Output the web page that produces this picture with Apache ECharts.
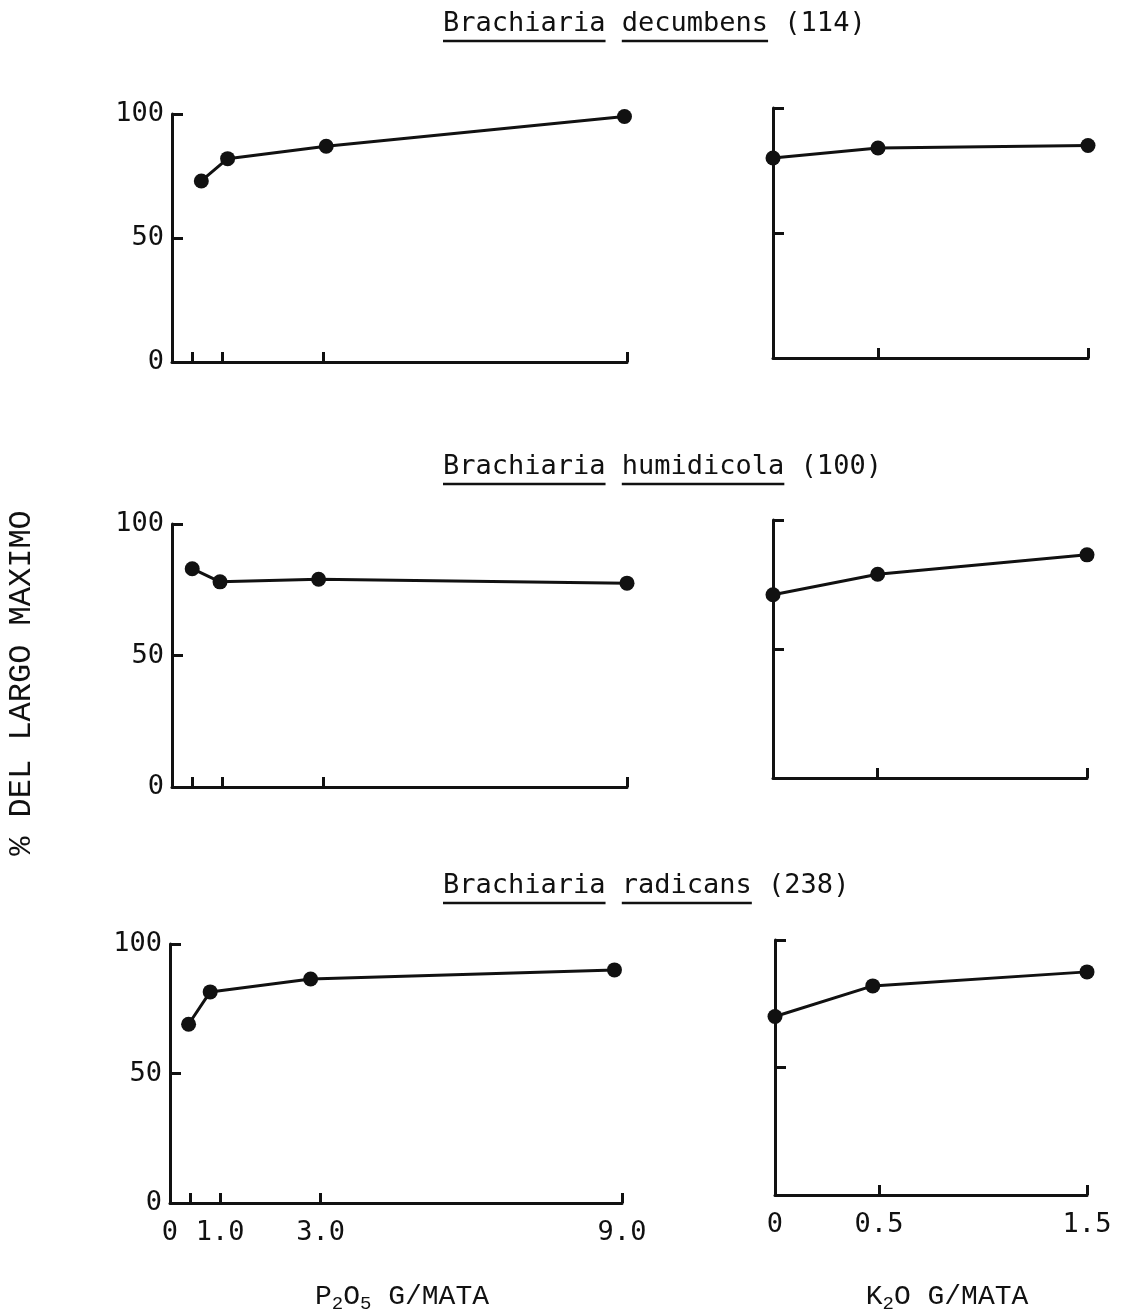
<!DOCTYPE html>
<html>
<head>
<meta charset="utf-8">
<script src="https://cdn.jsdelivr.net/npm/echarts@6/dist/echarts.min.js"></script>
<style>
  html, body { margin: 0; padding: 0; background: #fff; }
  #main { width: 1126px; height: 1312px; }
</style>
</head>
<body>
<div id="main"></div>
<script>
// datos
var titulos = ['Brachiaria decumbens (114)', 'Brachiaria humidicola (100)', 'Brachiaria radicans (238)'];

var pX1 = [0.58, 1.1, 3.05, 8.95];
var pY1 = [73, 82, 87, 99];
var pX2 = [0.4, 0.95, 2.9, 9.0];
var pY2 = [83, 78, 79, 77.5];
var pX3 = [0.37, 0.8, 2.8, 8.85];
var pY3 = [69, 81.5, 86.5, 90];

var kX1 = [0, 0.5, 1.5];
var kY1 = [80, 84, 85];
var kX2 = [0, 0.5, 1.5];
var kY2 = [71, 79, 86.5];
var kX3 = [0, 0.47, 1.5];
var kY3 = [70, 82, 87.5];

var pTicks = [0.4, 1, 3, 9];
var pLabels = [0, 1, 3, 9];
var kTicks = [0.5, 1.5];
var kLabels = [0, 0.5, 1.5];
var yLabels = [0, 50, 100];

var INK = '#111';
var MONO = 'DejaVu Sans Mono';

var grids = [
  {left: 172, top: 114, width: 455, height: 248},
  {left: 773, top: 108, width: 315, height: 250},
  {left: 172, top: 524, width: 455, height: 263},
  {left: 773, top: 520, width: 314, height: 258},
  {left: 170, top: 944, width: 452, height: 259},
  {left: 775, top: 940, width: 312, height: 255}
];

function zip(xs, ys) {
  return xs.map(function (x, i) { return [x, ys[i]]; });
}

var series = [
  zip(pX1, pY1), zip(kX1, kY1),
  zip(pX2, pY2), zip(kX2, kY2),
  zip(pX3, pY3), zip(kX3, kY3)
];

var xAxis = [], yAxis = [];
grids.forEach(function (g, i) {
  var isP = i % 2 === 0;
  var bottomRow = i >= 4;
  xAxis.push({
    type: 'value', gridIndex: i, min: 0, max: isP ? 9 : 1.5,
    axisLine: {lineStyle: {color: INK, width: 3}},
    axisTick: {show: true, inside: true, length: 10, customValues: isP ? pTicks : kTicks,
      lineStyle: {color: INK, width: 3}},
    axisLabel: {show: bottomRow, customValues: isP ? pLabels : kLabels, margin: 16,
      color: INK, fontFamily: MONO, fontSize: 27,
      formatter: function (v) { return v === 0 ? '0' : v.toFixed(1); }},
    splitLine: {show: false}
  });
  yAxis.push({
    type: 'value', gridIndex: i, min: 0, max: 100, interval: 50,
    axisLine: {show: true, lineStyle: {color: INK, width: 3}},
    axisTick: {show: true, inside: true, length: 11, customValues: [50, 100],
      lineStyle: {color: INK, width: 3}},
    axisLabel: {show: isP, customValues: yLabels, margin: 8, color: INK,
      fontFamily: MONO, fontSize: 27},
    splitLine: {show: false}
  });
});

// titulos con subrayado en el nombre cientifico
var graphic = [];
var titleY = [22, 465, 884];
var fs = 27, cw = fs * 0.602, tx = 443;
titulos.forEach(function (t, r) {
  graphic.push({type: 'text', x: tx, y: titleY[r] + 2,
    style: {text: t, font: fs + 'px "' + MONO + '"', fill: INK, verticalAlign: 'middle'}});
  var words = t.split(' ');
  var pos = 0;
  for (var w = 0; w < 2; w++) {
    graphic.push({type: 'line', shape: {x1: tx + pos * cw, y1: titleY[r] + 19,
      x2: tx + (pos + words[w].length) * cw, y2: titleY[r] + 19},
      style: {stroke: INK, lineWidth: 2.5}});
    pos += words[w].length + 1;
  }
});

var sub = {fontSize: 19, fontFamily: 'Liberation Mono', padding: [14, 0, 0, 0], fill: INK};
graphic.push({type: 'text', x: 402, y: 1297,
  style: {text: 'P{s|2}O{s|5} G/MATA', font: '28px "Liberation Mono"', fill: INK,
    align: 'center', verticalAlign: 'middle', rich: {s: sub}}});
graphic.push({type: 'text', x: 947, y: 1297,
  style: {text: 'K{s|2}O G/MATA', font: '28px "Liberation Mono"', fill: INK,
    align: 'center', verticalAlign: 'middle', rich: {s: sub}}});
graphic.push({type: 'text', x: 22, y: 683, rotation: Math.PI / 2,
  style: {text: '% DEL LARGO MAXIMO', font: '32px "Liberation Mono"', fill: INK,
    align: 'center', verticalAlign: 'middle'}});

var myChart = echarts.init(document.getElementById('main'));
var option = {
  backgroundColor: '#fff',
  animation: false,
  grid: grids,
  xAxis: xAxis,
  yAxis: yAxis,
  graphic: graphic,
  series: series.map(function (d, i) {
    return {
      type: 'line', xAxisIndex: i, yAxisIndex: i, data: d,
      symbol: 'circle', symbolSize: 15, clip: false,
      lineStyle: {color: INK, width: 3},
      itemStyle: {color: INK}
    };
  })
};
myChart.setOption(option);
</script>
</body>
</html>
